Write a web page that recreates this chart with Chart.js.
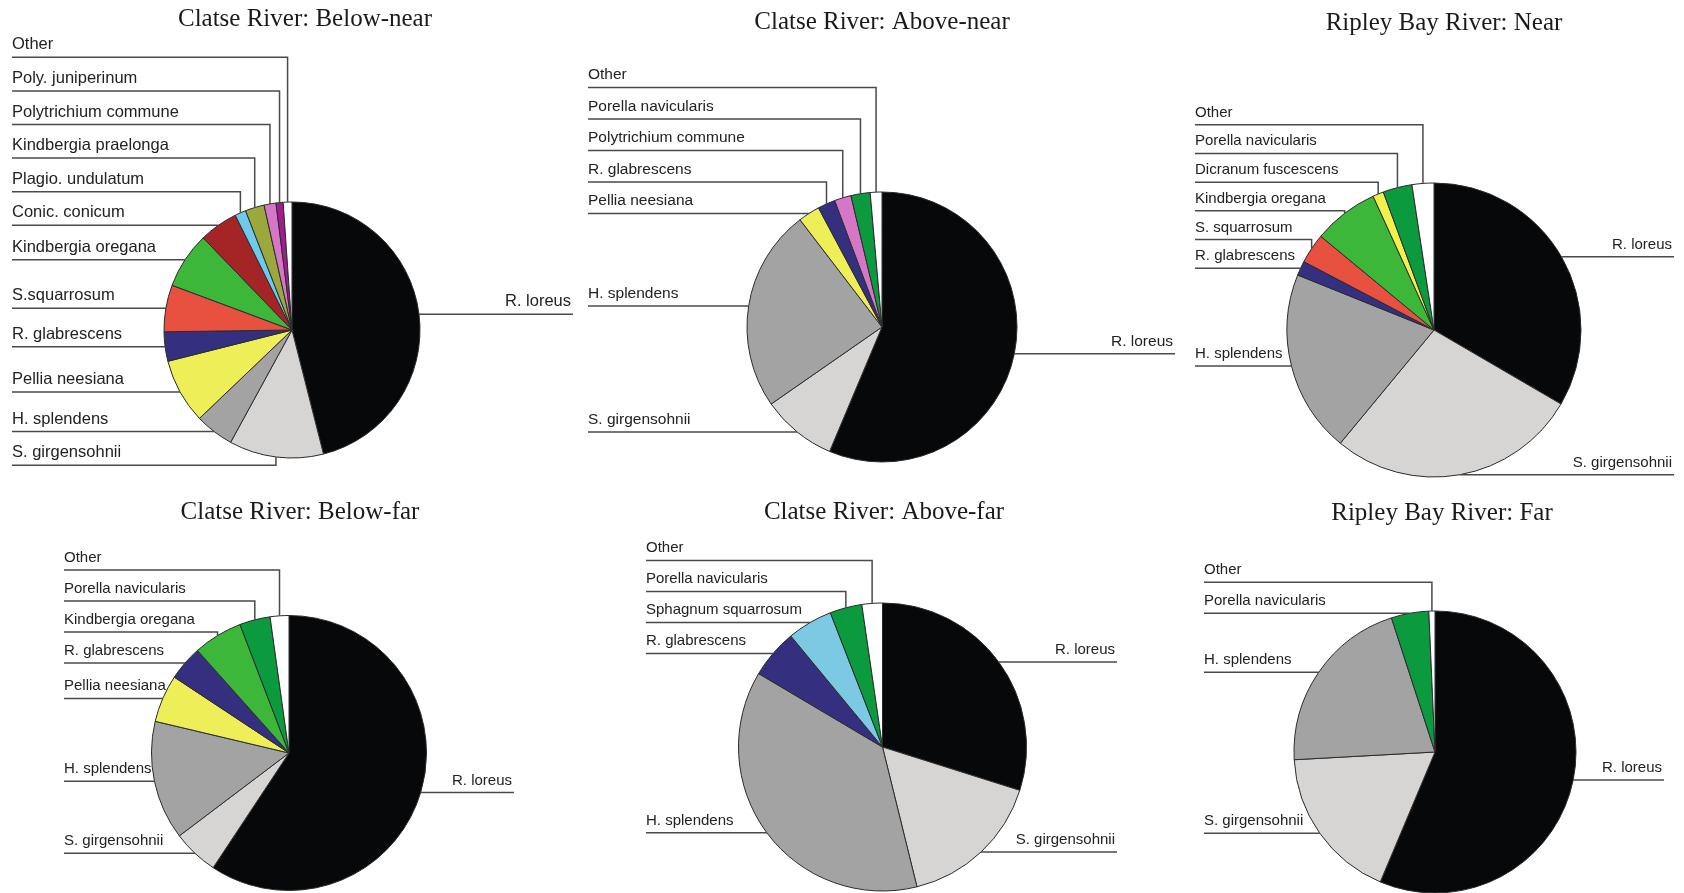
<!DOCTYPE html>
<html>
<head>
<meta charset="utf-8">
<title>Bryophyte composition by site</title>
<script src="https://cdn.jsdelivr.net/npm/chart.js@4.4.1/dist/chart.umd.min.js"></script>
<style>
  html, body { margin: 0; padding: 0; background: #fff; }
  #figure { position: relative; width: 1684px; height: 893px; overflow: hidden; }
  #figure canvas { position: absolute; }
</style>
</head>
<body>
<div id="figure"></div>
<script>
// panel titles, in page order
const titles = [
    'Clatse River: Below-near',
    'Clatse River: Above-near',
    'Ripley Bay River: Near',
    'Clatse River: Below-far',
    'Clatse River: Above-far',
    'Ripley Bay River: Far'
];

// slices go clockwise from 12 o'clock (% cover)
const belowNearLabels = ['R. loreus', 'S. girgensohnii', 'H. splendens', 'Pellia neesiana', 'R. glabrescens', 'S.squarrosum',
    'Kindbergia oregana', 'Conic. conicum', 'Plagio. undulatum', 'Kindbergia praelonga', 'Polytrichium commune', 'Poly. juniperinum', 'Other'];
const belowNearValues = [46.0, 11.9, 4.9, 8.2, 3.7, 5.9, 7.1, 4.9, 1.4, 2.4, 1.5, 0.9, 1.1];

const aboveNearLabels = ['R. loreus', 'S. girgensohnii', 'H. splendens', 'Pellia neesiana', 'R. glabrescens', 'Polytrichium commune', 'Porella navicularis', 'Other'];
const aboveNearValues = [56.4, 9.0, 24.3, 2.6, 2.1, 2.0, 2.3, 1.4];

const ripleyNearLabels = ['R. loreus', 'S. girgensohnii', 'H. splendens', 'R. glabrescens', 'S. squarrosum', 'Kindbergia oregana', 'Dicranum fuscescens', 'Porella navicularis', 'Other'];
const ripleyNearValues = [33.4, 27.6, 20.1, 1.6, 3.3, 7.2, 1.2, 3.2, 2.4];

const belowFarLabels = ['R. loreus', 'S. girgensohnii', 'H. splendens', 'Pellia neesiana', 'R. glabrescens', 'Kindbergia oregana', 'Porella navicularis', 'Other'];
const belowFarValues = [59.3, 5.4, 14.0, 5.6, 4.1, 5.8, 3.6, 2.2];

const aboveFarLabels = ['R. loreus', 'S. girgensohnii', 'H. splendens', 'R. glabrescens', 'Sphagnum squarrosum', 'Porella navicularis', 'Other'];
const aboveFarValues = [29.9, 16.3, 37.4, 5.5, 5.1, 3.6, 2.3];

const ripleyFarLabels = ['R. loreus', 'S. girgensohnii', 'H. splendens', 'Porella navicularis', 'Other'];
const ripleyFarValues = [56.4, 17.8, 20.9, 4.3, 0.7];

const sliceColours = {
    'R. loreus': '#07080a',
    'S. girgensohnii': '#d6d5d4',
    'H. splendens': '#a3a3a3',
    'Pellia neesiana': '#eeee58',
    'R. glabrescens': '#34307f',
    'S.squarrosum': '#e8503f',
    'S. squarrosum': '#e8503f',
    'Kindbergia oregana': '#3db73a',
    'Conic. conicum': '#a52526',
    'Plagio. undulatum': '#6fc9ec',
    'Kindbergia praelonga': '#9ba93c',
    'Polytrichium commune': '#d576c6',
    'Poly. juniperinum': '#a31c8f',
    'Porella navicularis': '#0b9a3d',
    'Dicranum fuscescens': '#f2f04c',
    'Sphagnum squarrosum': '#7bc9e3',
    'Other': '#ffffff'
};

// page layout of each panel (px)
const panels = [
    { x: 0,    y: 0,   w: 585, h: 490, cx: 292,   cy: 330, r: 128,   titleX: 305,  titleY: 19,  labelX: 12,   rightX: 573,  font: 16.5, gap: 33.6 },
    { x: 585,  y: 0,   w: 600, h: 490, cx: 882,   cy: 327, r: 135,   titleX: 882,  titleY: 22,  labelX: 588,  rightX: 1175, font: 15.5, gap: 31.5 },
    { x: 1185, y: 0,   w: 499, h: 490, cx: 1434,  cy: 330, r: 147,   titleX: 1444, titleY: 23,  labelX: 1195, rightX: 1674, font: 15,   gap: 28.7 },
    { x: 0,    y: 490, w: 585, h: 403, cx: 289,   cy: 753, r: 137.5, titleX: 300,  titleY: 512, labelX: 64,   rightX: 514,  font: 15,   gap: 31 },
    { x: 585,  y: 490, w: 600, h: 403, cx: 882.5, cy: 747, r: 144,   titleX: 884,  titleY: 512, labelX: 646,  rightX: 1117, font: 15,   gap: 31 },
    { x: 1185, y: 490, w: 499, h: 403, cx: 1435,  cy: 752, r: 141,   titleX: 1442, titleY: 513, labelX: 1204, rightX: 1664, font: 15,   gap: 31 }
];

const series = [
    [belowNearLabels, belowNearValues],
    [aboveNearLabels, aboveNearValues],
    [ripleyNearLabels, ripleyNearValues],
    [belowFarLabels, belowFarValues],
    [aboveFarLabels, aboveFarValues],
    [ripleyFarLabels, ripleyFarValues]
];

// title + elbow leader lines, anchored on each arc's mid-angle
function leaderPlugin(p, title) {
    return {
        id: 'leaders',
        afterDraw(chart) {
            const ctx = chart.ctx;
            const arcs = chart.getDatasetMeta(0).data;
            const labels = chart.data.labels;
            ctx.save();

            ctx.fillStyle = '#1a1a1a';
            ctx.font = '25px "Liberation Serif", "Times New Roman", serif';
            ctx.textAlign = 'center';
            ctx.textBaseline = 'middle';
            ctx.fillText(title, p.titleX - p.x, p.titleY - p.y);

            const items = arcs.map((arc, i) => {
                const a = (arc.startAngle + arc.endAngle) / 2;
                return {
                    text: labels[i],
                    ax: arc.x + arc.outerRadius * Math.cos(a),
                    ay: arc.y + arc.outerRadius * Math.sin(a),
                    right: Math.cos(a) > 0
                };
            });
            const cy = arcs[0].y;
            const upper = items.filter(d => !d.right && d.ay < cy).sort((a, b) => b.ay - a.ay);
            const lower = items.filter(d => !d.right && d.ay >= cy).sort((a, b) => a.ay - b.ay);
            let prev = Infinity;
            upper.forEach(d => { d.ly = Math.min(d.ay, prev - p.gap); prev = d.ly; });
            prev = -Infinity;
            lower.forEach(d => { d.ly = Math.max(d.ay, prev + p.gap); prev = d.ly; });
            items.filter(d => d.right).forEach(d => { d.ly = d.ay; });

            const lx = p.labelX - p.x;
            const rx = p.rightX - p.x;
            ctx.strokeStyle = '#4a4a4a';
            ctx.lineWidth = 1.5;
            ctx.font = p.font + 'px "Liberation Sans", Arial, sans-serif';
            ctx.textBaseline = 'alphabetic';
            ctx.fillStyle = '#222';
            items.forEach(d => {
                ctx.beginPath();
                if (d.right) {
                    ctx.moveTo(d.ax, d.ay);
                    ctx.lineTo(rx, d.ly);
                } else {
                    ctx.moveTo(lx, d.ly);
                    ctx.lineTo(d.ax, d.ly);
                    ctx.lineTo(d.ax, d.ay);
                }
                ctx.stroke();
                ctx.textAlign = d.right ? 'right' : 'left';
                ctx.fillText(d.text, d.right ? rx - 2 : lx, d.ly - 8);
            });
            ctx.restore();
        }
    };
}

const figure = document.getElementById('figure');

panels.forEach((p, k) => {
    const [labels, values] = series[k];
    const canvas = document.createElement('canvas');
    canvas.width = p.w;
    canvas.height = p.h;
    canvas.style.left = p.x + 'px';
    canvas.style.top = p.y + 'px';
    canvas.style.width = p.w + 'px';
    canvas.style.height = p.h + 'px';
    figure.appendChild(canvas);

    // keep the chart area centred on the pie centre
    const halfW = Math.min(p.cx - p.x, p.x + p.w - p.cx);
    const halfH = Math.min(p.cy - p.y, p.y + p.h - p.cy);

    new Chart(canvas, {
        type: 'pie',
        data: {
            labels: labels,
            datasets: [{
                data: values,
                backgroundColor: labels.map(l => sliceColours[l]),
                borderColor: '#2b2b2b',
                borderWidth: 1,
                radius: p.r,
                hoverOffset: 0
            }]
        },
        options: {
            responsive: false,
            animation: false,
            events: [],
            layout: {
                padding: {
                    left: p.cx - p.x - halfW,
                    right: p.x + p.w - p.cx - halfW,
                    top: p.cy - p.y - halfH,
                    bottom: p.y + p.h - p.cy - halfH
                }
            },
            plugins: {
                legend: { display: false },
                tooltip: { enabled: false }
            }
        },
        plugins: [leaderPlugin(p, titles[k])]
    });
});
</script>
</body>
</html>
